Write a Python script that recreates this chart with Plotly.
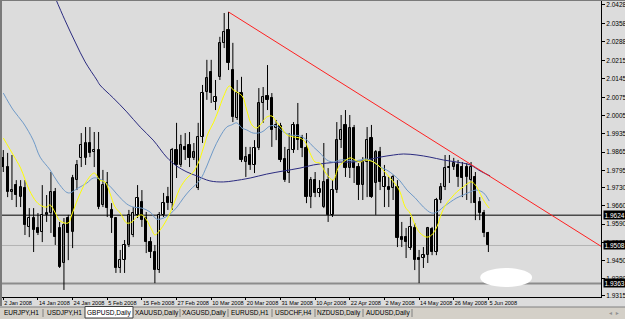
import plotly.graph_objects as go

# ---------------- data ----------------
dates_lbl = ["2 Jan 2008", "14 Jan 2008", "24 Jan 2008", "5 Feb 2008", "15 Feb 2008",
             "27 Feb 2008", "10 Mar 2008", "20 Mar 2008", "31 Mar 2008", "10 Apr 2008",
             "22 Apr 2008", "2 May 2008", "14 May 2008", "26 May 2008", "5 Jun 2008"]
date_bar = [0, 8, 16, 24, 32, 40, 48, 56, 64, 72, 80, 88, 96, 104, 112]

open_ = [1.9843, 1.9808, 1.9713, 1.9739, 1.9693, 1.9728, 1.9579, 1.9613, 1.9575, 1.9560,
         1.9625, 1.9632, 1.9713, 1.9575, 1.9441, 1.9613, 1.9560, 1.9758, 1.9843, 1.9843,
         1.9900, 1.9866, 1.9873, 1.9663, 1.9747, 1.9644, 1.9613, 1.9422, 1.9452, 1.9510,
         1.9548, 1.9625, 1.9674, 1.9613, 1.9521, 1.9483, 1.9414, 1.9625, 1.9693, 1.9670,
         1.9873, 1.9816, 1.9885, 1.9892, 1.9843, 1.9728, 1.9923, 2.0095, 2.0172, 2.0057,
         2.0153, 2.0283, 2.0332, 2.0179, 1.9996, 2.0091, 1.9827, 1.9854, 1.9816, 1.9881,
         2.0053, 2.0080, 2.0072, 1.9957, 1.9965, 1.9839, 1.9785, 1.9873, 1.9969, 1.9919,
         1.9881, 1.9693, 1.9758, 1.9709, 1.9655, 1.9758, 1.9625, 1.9720, 1.9911, 1.9969,
         1.9804, 1.9957, 1.9808, 1.9739, 1.9827, 1.9919, 1.9747, 1.9866, 1.9732, 1.9732,
         1.9728, 1.9732, 1.9540, 1.9540, 1.9498, 1.9575, 1.9460, 1.9460, 1.9471, 1.9571,
         1.9483, 1.9682, 1.9732, 1.9804, 1.9808, 1.9816, 1.9808, 1.9808, 1.9758, 1.9770,
         1.9674, 1.9632, 1.9556]
high = [1.9873, 1.9862, 1.9854, 1.9758, 1.9758, 1.9758, 1.9651, 1.9651, 1.9632, 1.9739,
        1.9701, 1.9789, 1.9728, 1.9598, 1.9613, 1.9625, 1.9778, 1.9835, 1.9938, 1.9961,
        1.9961, 1.9942, 1.9942, 1.9797, 1.9789, 1.9670, 1.9617, 1.9491, 1.9529, 1.9644,
        1.9655, 1.9739, 1.9720, 1.9636, 1.9540, 1.9510, 1.9636, 1.9709, 1.9732, 1.9881,
        1.9977, 1.9931, 1.9938, 1.9942, 1.9900, 1.9977, 2.0122, 2.0218, 2.0218, 2.0141,
        2.0306, 2.0397, 2.0401, 2.0283, 2.0141, 2.0153, 1.9885, 1.9885, 1.9911, 2.0110,
        2.0114, 2.0198, 2.0091, 1.9988, 1.9977, 1.9885, 1.9938, 1.9980, 2.0053, 1.9931,
        1.9938, 1.9770, 1.9789, 1.9758, 1.9900, 1.9804, 1.9758, 1.9980, 2.0007, 2.0026,
        2.0007, 1.9969, 1.9823, 1.9846, 1.9961, 1.9969, 1.9873, 1.9885, 1.9816, 1.9770,
        1.9778, 1.9758, 1.9598, 1.9575, 1.9617, 1.9594, 1.9491, 1.9502, 1.9579, 1.9579,
        1.9690, 1.9747, 1.9854, 1.9854, 1.9843, 1.9835, 1.9827, 1.9823, 1.9827, 1.9789,
        1.9693, 1.9644, 1.9560]
low = [1.9789, 1.9693, 1.9682, 1.9655, 1.9655, 1.9548, 1.9540, 1.9483, 1.9548, 1.9521,
       1.9598, 1.9556, 1.9510, 1.9422, 1.9338, 1.9452, 1.9498, 1.9720, 1.9808, 1.9816,
       1.9846, 1.9808, 1.9647, 1.9655, 1.9617, 1.9556, 1.9403, 1.9403, 1.9403, 1.9502,
       1.9540, 1.9613, 1.9579, 1.9479, 1.9460, 1.9364, 1.9403, 1.9617, 1.9644, 1.9644,
       1.9766, 1.9808, 1.9835, 1.9808, 1.9835, 1.9720, 1.9900, 2.0065, 2.0053, 2.0026,
       2.0141, 2.0263, 2.0179, 1.9980, 1.9988, 1.9827, 1.9770, 1.9797, 1.9785, 1.9873,
       1.9977, 2.0026, 1.9885, 1.9911, 1.9827, 1.9751, 1.9747, 1.9862, 1.9873, 1.9846,
       1.9670, 1.9651, 1.9693, 1.9693, 1.9651, 1.9598, 1.9617, 1.9709, 1.9881, 1.9770,
       1.9766, 1.9747, 1.9682, 1.9682, 1.9693, 1.9690, 1.9625, 1.9720, 1.9655, 1.9655,
       1.9682, 1.9502, 1.9502, 1.9460, 1.9491, 1.9414, 1.9364, 1.9422, 1.9441, 1.9471,
       1.9471, 1.9670, 1.9720, 1.9747, 1.9797, 1.9732, 1.9693, 1.9682, 1.9670, 1.9605,
       1.9605, 1.9540, 1.9483]
close = [1.9808, 1.9713, 1.9720, 1.9701, 1.9732, 1.9586, 1.9613, 1.9567, 1.9556, 1.9625,
         1.9632, 1.9713, 1.9540, 1.9426, 1.9586, 1.9556, 1.9766, 1.9816, 1.9892, 1.9900,
         1.9862, 1.9873, 1.9655, 1.9739, 1.9651, 1.9613, 1.9422, 1.9452, 1.9510, 1.9625,
         1.9632, 1.9690, 1.9605, 1.9521, 1.9483, 1.9414, 1.9625, 1.9670, 1.9670, 1.9873,
         1.9816, 1.9892, 1.9873, 1.9843, 1.9866, 1.9923, 2.0091, 2.0149, 2.0091, 2.0076,
         2.0283, 2.0325, 2.0206, 1.9999, 2.0091, 1.9835, 1.9846, 1.9816, 1.9881, 2.0053,
         2.0076, 2.0065, 1.9950, 1.9969, 1.9835, 1.9758, 1.9873, 1.9969, 1.9911, 1.9881,
         1.9693, 1.9758, 1.9709, 1.9724, 1.9751, 1.9625, 1.9720, 1.9911, 1.9950, 1.9804,
         1.9957, 1.9804, 1.9739, 1.9827, 1.9911, 1.9693, 1.9866, 1.9751, 1.9770, 1.9720,
         1.9770, 1.9537, 1.9529, 1.9521, 1.9579, 1.9452, 1.9452, 1.9471, 1.9575, 1.9483,
         1.9682, 1.9732, 1.9804, 1.9808, 1.9823, 1.9770, 1.9766, 1.9770, 1.9808, 1.9670,
         1.9632, 1.9556, 1.9508]

# moving averages (bar position, price)
ma_fast_x = [0, 2.3, 4.0, 6.0, 7.7, 8.9, 10.0, 10.8, 11.9, 13.1, 15.0, 15.8, 17.3, 19.1, 21.0,
             22.3, 23.5, 24.6, 25.8, 27.0, 28.5, 29.7, 30.8, 32.0, 33.1, 34.3, 35.0, 36.2, 37.3,
             38.5, 39.7, 40.8, 42.4, 43.9, 45.0, 46.2, 47.3, 48.5, 49.7, 50.8, 52.2, 53.1, 54.3,
             55.3, 56.2, 57.4, 58.5, 59.7, 60.8, 62.0, 63.1, 64.3, 65.5, 67.0, 68.5, 69.7, 70.8,
             72.0, 73.1, 74.3, 75.4, 76.2, 77.4, 78.5, 80.1, 81.2, 82.4, 83.5, 85.5, 87.0, 88.1,
             89.3, 90.5, 91.6, 92.8, 93.9, 95.1, 96.2, 97.8, 98.9, 100.1, 101.2, 102.4, 103.6,
             104.7, 106.2, 107.4, 108.2, 109.3, 110.5, 111.6, 112.2]
ma_fast_y = [1.9919, 1.9854, 1.9804, 1.9720, 1.9674, 1.9659, 1.9655, 1.9663, 1.9636, 1.9602,
             1.9594, 1.9625, 1.9690, 1.9751, 1.9785, 1.9758, 1.9751, 1.9709, 1.9655, 1.9632,
             1.9594, 1.9598, 1.9617, 1.9625, 1.9605, 1.9567, 1.9548, 1.9567, 1.9594, 1.9632,
             1.9682, 1.9728, 1.9766, 1.9789, 1.9823, 1.9881, 1.9938, 1.9977, 2.0026, 2.0076,
             2.0118, 2.0103, 2.0091, 2.0076, 2.0026, 1.9969, 1.9957, 1.9977, 1.9999, 2.0003,
             1.9980, 1.9957, 1.9931, 1.9923, 1.9919, 1.9904, 1.9862, 1.9827, 1.9823, 1.9789,
             1.9766, 1.9758, 1.9808, 1.9827, 1.9843, 1.9835, 1.9827, 1.9835, 1.9827, 1.9808,
             1.9789, 1.9766, 1.9743, 1.9713, 1.9655, 1.9632, 1.9586, 1.9556, 1.9540, 1.9548,
             1.9579, 1.9632, 1.9670, 1.9693, 1.9713, 1.9732, 1.9747, 1.9751, 1.9732, 1.9693,
             1.9663, 1.9651]

ma_mid_x = [0, 2.3, 4.6, 6.9, 8.5, 10.8, 12.7, 15.0, 17.3, 19.3, 20.8, 22.3, 24.6, 26.2, 28.5,
            30.0, 32.0, 33.9, 35.4, 37.0, 38.5, 40.1, 41.6, 43.1, 45.4, 47.0, 48.5, 50.0, 51.6,
            52.7, 53.9, 55.1, 56.2, 57.7, 59.7, 61.6, 63.1, 64.7, 66.2, 68.5, 70.1, 71.6, 73.1,
            74.7, 76.2, 77.8, 79.3, 80.8, 82.4, 83.9, 85.5, 87.0, 88.5, 90.1, 91.6, 93.2, 95.1,
            97.0, 98.9, 100.1, 101.6, 103.2, 104.7, 106.2, 107.8, 109.3, 110.9, 112.2]
ma_mid_y = [2.0091, 2.0026, 1.9977, 1.9911, 1.9846, 1.9797, 1.9747, 1.9709, 1.9728, 1.9747,
            1.9766, 1.9762, 1.9735, 1.9705, 1.9667, 1.9655, 1.9651, 1.9636, 1.9609, 1.9613,
            1.9628, 1.9655, 1.9690, 1.9720, 1.9758, 1.9812, 1.9873, 1.9923, 1.9961, 1.9969,
            1.9977, 1.9957, 1.9950, 1.9938, 1.9942, 1.9965, 1.9965, 1.9942, 1.9931, 1.9927,
            1.9911, 1.9885, 1.9862, 1.9835, 1.9827, 1.9835, 1.9835, 1.9831, 1.9835, 1.9839,
            1.9827, 1.9808, 1.9797, 1.9778, 1.9755, 1.9720, 1.9690, 1.9655, 1.9632, 1.9636,
            1.9655, 1.9674, 1.9690, 1.9701, 1.9713, 1.9720, 1.9709, 1.9678]

ma_slow_x = [12.0, 14.2, 16.6, 18.9, 21.6, 22.3, 25.4, 28.5, 31.6, 34.6, 37.7, 40.0, 42.4, 44.7,
             47.7, 50.8, 53.1, 57.0, 60.8, 64.7, 68.5, 71.6, 74.7, 77.8, 80.8, 83.9, 87.0, 90.1,
             92.4, 95.5, 98.5, 101.6, 104.7, 107.8, 110.1, 112.4]
ma_slow_y = [2.0455, 2.0371, 2.0286, 2.0210, 2.0141, 2.0122, 2.0072, 2.0019, 1.9961, 1.9911,
             1.9846, 1.9812, 1.9789, 1.9774, 1.9755, 1.9751, 1.9755, 1.9766, 1.9781, 1.9793,
             1.9804, 1.9816, 1.9823, 1.9827, 1.9827, 1.9835, 1.9846, 1.9854, 1.9858, 1.9854,
             1.9846, 1.9835, 1.9827, 1.9816, 1.9793, 1.9774]

trend_x = [52, 138]
trend_y = [2.0401, 1.9505]

hline_black = 1.9624
hline_bid = 1.9508
hline_low = 1.9363

price_ticks = [2.0428, 2.0358, 2.0288, 2.0215, 2.0145, 2.0075, 2.0005, 1.9935, 1.9865,
               1.9795, 1.9730, 1.9660, 1.9590, 1.9520, 1.9450, 1.9380, 1.9315]

tabs = ["EURJPY,H1", "USDJPY,H1", "GBPUSD,Daily", "XAUUSD,Daily", "XAGUSD,Daily",
        "EURUSD,H1", "USDCHF,H4", "NZDUSD,Daily", "AUDUSD,Daily"]
tab_edges = [0, 43, 85, 133, 180, 228, 272, 315, 363, 412]
active_tab = 2

# ---------------- figure ----------------
W, H = 625, 319
ML, MR, MT, MB = 2, 24, 1, 22
PW, PH = W - ML - MR, H - MT - MB
BG = "#dcdcdc"
NARROW = "Liberation Sans Narrow, Arial Narrow, Liberation Sans"


def px(x):
    return (x - ML) / PW


def py(y):
    return (H - MB - y) / PH


n = len(open_)
idx = list(range(n))

fig = go.Figure()

# wicks
wx, wy = [], []
for i in idx:
    wx += [i, i, None]
    wy += [low[i], high[i], None]
fig.add_trace(go.Scatter(x=wx, y=wy, mode="lines", line=dict(color="black", width=1),
                         hoverinfo="skip", showlegend=False))

# bodies
bx_up, bb_up, bh_up, bx_dn, bb_dn, bh_dn = [], [], [], [], [], []
for i in idx:
    o, c = open_[i], close[i]
    if c >= o:
        bx_up.append(i); bb_up.append(o); bh_up.append(max(c - o, 0.00005))
    else:
        bx_dn.append(i); bb_dn.append(c); bh_dn.append(o - c)
fig.add_trace(go.Bar(x=bx_up, y=bh_up, base=bb_up, width=0.5,
                     marker=dict(color="white", line=dict(color="black", width=1)),
                     showlegend=False, hoverinfo="skip"))
fig.add_trace(go.Bar(x=bx_dn, y=bh_dn, base=bb_dn, width=0.5,
                     marker=dict(color="black", line=dict(color="black", width=1)),
                     showlegend=False, hoverinfo="skip"))

# moving averages
fig.add_trace(go.Scatter(x=ma_slow_x, y=ma_slow_y, mode="lines", line=dict(color="#2b2b80", width=1, shape="spline"),
                         showlegend=False, hoverinfo="skip"))
fig.add_trace(go.Scatter(x=ma_mid_x, y=ma_mid_y, mode="lines", line=dict(color="#6f9ac8", width=1, shape="spline"),
                         showlegend=False, hoverinfo="skip"))
fig.add_trace(go.Scatter(x=ma_fast_x, y=ma_fast_y, mode="lines", line=dict(color="#ffff00", width=1, shape="spline"),
                         showlegend=False, hoverinfo="skip"))
# trend line
fig.add_trace(go.Scatter(x=trend_x, y=trend_y, mode="lines", line=dict(color="#ff2020", width=1),
                         showlegend=False, hoverinfo="skip"))

shapes = []
# horizontal lines
shapes.append(dict(type="line", xref="paper", x0=0, x1=1, yref="y", y0=hline_black, y1=hline_black,
                   line=dict(color="black", width=1), layer="below"))
shapes.append(dict(type="line", xref="paper", x0=0, x1=1, yref="y", y0=hline_bid, y1=hline_bid,
                   line=dict(color="#b4b4b4", width=1), layer="below"))
shapes.append(dict(type="line", xref="paper", x0=0, x1=1, yref="y", y0=hline_low, y1=hline_low,
                   line=dict(color="#8c8c8c", width=2), layer="below"))
# white blotch
shapes.append(dict(type="circle", xref="x", yref="y", x0=110.1, x1=122.1, y0=1.9349, y1=1.9422,
                   fillcolor="white", line=dict(width=0)))
# window borders
shapes.append(dict(type="rect", xref="paper", yref="paper", x0=px(0), x1=px(2), y0=py(0), y1=py(306),
                   fillcolor="#7a7a7a", line=dict(width=0)))
shapes.append(dict(type="rect", xref="paper", yref="paper", x0=px(0), x1=px(625), y0=py(0), y1=py(1),
                   fillcolor="#7a7a7a", line=dict(width=0)))
# tab bar
shapes.append(dict(type="rect", xref="paper", yref="paper", x0=px(0), x1=px(625), y0=py(307), y1=py(319),
                   fillcolor="#d4d0c8", line=dict(width=0)))
shapes.append(dict(type="line", xref="paper", yref="paper", x0=px(0), x1=px(625), y0=py(307), y1=py(307),
                   line=dict(color="#808080", width=1)))
a0, a1 = tab_edges[active_tab], tab_edges[active_tab + 1]
shapes.append(dict(type="rect", xref="paper", yref="paper", x0=px(a0), x1=px(a1), y0=py(306.5), y1=py(318),
                   fillcolor="white", line=dict(color="#404040", width=1)))
for k, e in enumerate(tab_edges[1:]):
    if k + 1 in (active_tab, active_tab + 1):
        continue
    shapes.append(dict(type="line", xref="paper", yref="paper", x0=px(e), x1=px(e), y0=py(309), y1=py(317),
                       line=dict(color="#808080", width=1)))

annotations = []
for k, t in enumerate(tabs):
    cx = (tab_edges[k] + tab_edges[k + 1]) / 2
    annotations.append(dict(x=px(cx), y=py(313), xref="paper", yref="paper", text=t, showarrow=False,
                            xanchor="center", yanchor="middle",
                            font=dict(family=NARROW, size=6.5, color="black")))
annotations.append(dict(x=px(614), y=py(313), xref="paper", yref="paper", text="◂  ▸", showarrow=False,
                        xanchor="center", yanchor="middle",
                        font=dict(family="DejaVu Sans", size=6, color="#909090")))
for v in (hline_black, hline_bid, hline_low):
    annotations.append(dict(x=1, xref="paper", y=v, yref="y", text=f"{v:.4f}", showarrow=False,
                            xanchor="left", yanchor="middle", xshift=2, bgcolor="black", borderpad=0.5,
                            font=dict(family="Liberation Sans", size=6.5, color="white")))

fig.update_layout(
    width=W, height=H, margin=dict(l=ML, r=MR, t=MT, b=MB, autoexpand=False),
    paper_bgcolor=BG, plot_bgcolor=BG, barmode="overlay", bargap=0,
    showlegend=False, shapes=shapes, annotations=annotations,
    font=dict(family="Liberation Sans", size=6.5, color="black"),
    xaxis=dict(range=[-0.3, 138], tickmode="array", tickvals=date_bar, ticktext=dates_lbl,
               ticks="outside", ticklen=2, tickcolor="black", ticklabelposition="outside right",
               tickangle=0, automargin=False,
               showline=True, linecolor="black", linewidth=1, showgrid=False, zeroline=False,
               tickfont=dict(family=NARROW, size=5.6)),
    yaxis=dict(range=[1.9311, 2.0443], side="right", tickmode="array", tickvals=price_ticks,
               ticktext=[f"{v:.4f}" for v in price_ticks], ticks="outside", ticklen=3,
               tickcolor="black", showline=True, linecolor="black", linewidth=1, automargin=False,
               showgrid=False, zeroline=False, tickfont=dict(size=6.5)),
)

fig.write_html("out.html")
